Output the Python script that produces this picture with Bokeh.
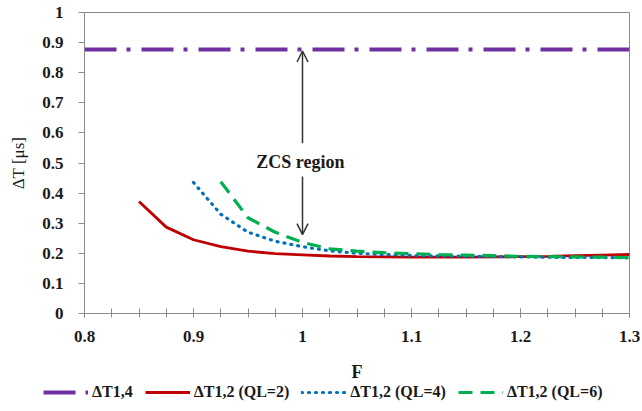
from bokeh.plotting import figure
from bokeh.models import Range1d, Legend, LegendItem, Arrow, OpenHead, Label, FixedTicker
from bokeh.embed import file_html
from bokeh.resources import INLINE

# Data
F_14 = [0.8, 1.3]
dt_14 = [0.877, 0.877]

F_ql2 = [0.85, 0.875, 0.9, 0.925, 0.95, 0.975, 1.0, 1.025, 1.05, 1.075, 1.1,
         1.125, 1.15, 1.175, 1.2, 1.225, 1.25, 1.275, 1.3]
dt_ql2 = [0.372, 0.287, 0.245, 0.222, 0.207, 0.199, 0.195, 0.191, 0.189, 0.188, 0.187,
          0.187, 0.187, 0.188, 0.189, 0.190, 0.192, 0.194, 0.196]

F_ql4 = [0.9, 0.925, 0.95, 0.975, 1.0, 1.025, 1.05, 1.075, 1.1,
         1.125, 1.15, 1.175, 1.2, 1.225, 1.25, 1.275, 1.3]
dt_ql4 = [0.435, 0.33, 0.27, 0.24, 0.222, 0.208, 0.2, 0.196, 0.193,
          0.191, 0.19, 0.189, 0.188, 0.187, 0.186, 0.186, 0.185]

F_ql6 = [0.925, 0.95, 0.975, 1.0, 1.025, 1.05, 1.075, 1.1,
         1.125, 1.15, 1.175, 1.2, 1.225, 1.25, 1.275, 1.3]
dt_ql6 = [0.438, 0.318, 0.27, 0.236, 0.215, 0.207, 0.202, 0.199,
          0.196, 0.194, 0.192, 0.19, 0.189, 0.188, 0.187, 0.186]

x_ticks = [0.8, 0.9, 1.0, 1.1, 1.2, 1.3]
x_minor = [0.8 + 0.025 * i for i in range(21)]
y_ticks = [0.0, 0.1, 0.2, 0.3, 0.4, 0.5, 0.6, 0.7, 0.8, 0.9, 1.0]
x_tick_labels = {0.8: "0.8", 0.9: "0.9", 1.0: "1", 1.1: "1.1", 1.2: "1.2", 1.3: "1.3"}
y_tick_labels = {0.0: "0", 0.1: "0.1", 0.2: "0.2", 0.3: "0.3", 0.4: "0.4", 0.5: "0.5",
                 0.6: "0.6", 0.7: "0.7", 0.8: "0.8", 0.9: "0.9", 1.0: "1"}
labels = ["ΔT1,4", "ΔT1,2 (QL=2)", "ΔT1,2 (QL=4)", "ΔT1,2 (QL=6)"]

FONT = "Liberation Serif"
AX = "#8a8a8a"
TXT = "#1a1a1a"

STYLES = [
    dict(line_color="#7030A0", line_width=4, line_dash="32 10 4 11"),
    dict(line_color="#C00000", line_width=2.8),
    dict(line_color="#0070C0", line_width=3.2, line_dash="1 6", line_cap="round"),
    dict(line_color="#00B050", line_width=3.2, line_dash="14 8"),
]
SERIES = [(F_14, dt_14), (F_ql2, dt_ql2), (F_ql4, dt_ql4), (F_ql6, dt_ql6)]

p = figure(width=642, height=384, output_backend="svg", toolbar_location=None,
           x_range=Range1d(0.8, 1.3), y_range=Range1d(0, 1),
           min_border_left=84, min_border_top=12, min_border_right=13, min_border_bottom=70)
p.background_fill_color = "white"
p.border_fill_color = "white"
p.outline_line_color = AX
p.outline_line_width = 1
p.xgrid.visible = False
p.ygrid.visible = False

for (fx, fy), st in zip(SERIES, STYLES):
    p.line(fx, fy, **st)

# Axes
xa = p.xaxis[0]
xa.ticker = FixedTicker(ticks=x_ticks, minor_ticks=x_minor)
xa.major_label_overrides = x_tick_labels
xa.axis_label = "F"
ya = p.yaxis[0]
ya.ticker = FixedTicker(ticks=y_ticks)
ya.major_label_overrides = y_tick_labels
ya.axis_label = "ΔT [μs]"
for ax in (xa, ya):
    ax.axis_line_color = AX
    ax.major_tick_line_color = AX
    ax.minor_tick_line_color = AX
    ax.major_label_text_font = FONT
    ax.major_label_text_font_style = "bold"
    ax.major_label_text_font_size = "17px"
    ax.major_label_text_color = TXT
    ax.axis_label_text_font = FONT
    ax.axis_label_text_font_size = "18px"
    ax.axis_label_text_color = TXT
xa.axis_label_text_font_style = "bold"
ya.axis_label_text_font_style = "normal"
ya.axis_label_text_font_size = "17px"
xa.major_tick_in = 5
xa.major_tick_out = 4
xa.minor_tick_in = 5
xa.minor_tick_out = 4
xa.major_label_standoff = 13
xa.axis_label_standoff = 17
ya.major_tick_in = 0
ya.major_tick_out = 6
ya.minor_tick_line_color = None
ya.major_label_standoff = 15
ya.axis_label_standoff = 11

# Annotations
p.add_layout(Arrow(end=OpenHead(size=11, line_color="#333333", line_width=1.5),
                   x_start=1.0, y_start=0.566, x_end=1.0, y_end=0.872,
                   line_color="#333333", line_width=1.5))
p.add_layout(Arrow(end=OpenHead(size=11, line_color="#333333", line_width=1.5),
                   x_start=1.0, y_start=0.455, x_end=1.0, y_end=0.262,
                   line_color="#333333", line_width=1.5))
p.add_layout(Label(x=0.998, y=0.503, text="ZCS region", text_align="center",
                   text_baseline="middle", text_font=FONT, text_font_style="bold",
                   text_font_size="18px", text_color=TXT))

# Legend strip below the chart (same series, drawn out of view so only the legend shows)
lf = figure(width=642, height=27, output_backend="svg", toolbar_location=None,
            x_range=Range1d(0.8, 1.3), y_range=Range1d(5, 6),
            x_axis_type=None, y_axis_type=None, min_border=0)
lf.outline_line_color = None
lf.xgrid.visible = False
lf.ygrid.visible = False
lrs = [lf.line(fx, fy, **st) for (fx, fy), st in zip(SERIES, STYLES)]
legend = Legend(items=[LegendItem(label=l, renderers=[r]) for l, r in zip(labels, lrs)],
                orientation="horizontal", location=(43, 10),
                label_text_font=FONT, label_text_font_size="16px", label_text_font_style="bold",
                label_text_color=TXT, glyph_width=45, glyph_height=16, label_height=16,
                spacing=12, border_line_color=None, background_fill_alpha=0,
                padding=0, margin=0, label_standoff=4)
lf.add_layout(legend, "center")

open("out.html", "w").write(file_html([p, lf], INLINE))
